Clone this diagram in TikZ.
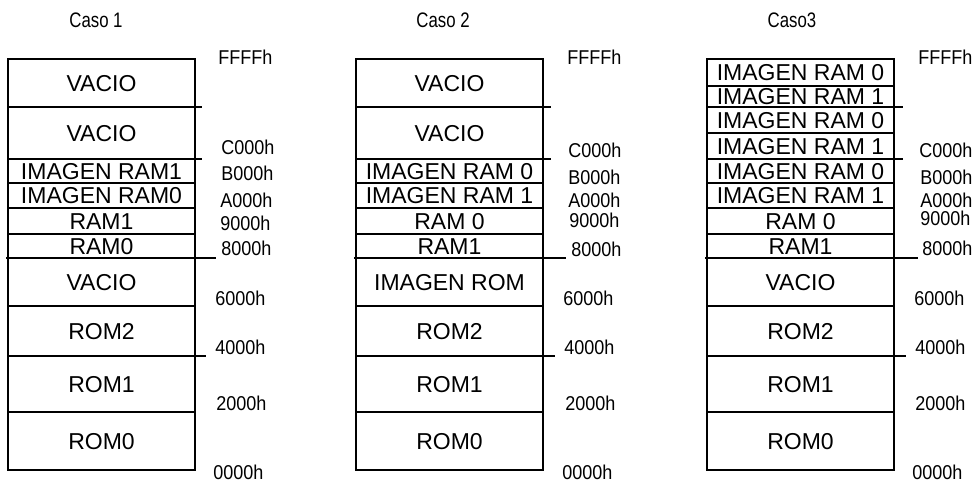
\documentclass[tikz,border=0pt]{standalone}
\usepackage{fontspec}
\setmainfont{Liberation Sans}
\newfontfamily\narrowfont[FakeStretch=0.9]{Liberation Sans}
\newfontfamily\titlefont[FakeStretch=0.8]{Liberation Sans}
\usepackage{tikz}
\usetikzlibrary{positioning}
\tikzset{
    every picture/.style={line cap=butt,line join=miter},
    memcell/.style={draw=black,line width=0.7pt,anchor=north west,
      minimum width=93.5pt,inner sep=0pt,outer sep=0pt,
      text height=8.2pt,text depth=0pt,
      font=\fontsize{11.5}{11.5}\selectfont},
    tick/.style={draw=black,line width=0.7pt},
    addr/.style={anchor=west,inner sep=0pt,font=\narrowfont\fontsize{10}{10}\selectfont},
    casetitle/.style={inner sep=0pt,font=\titlefont\fontsize{10.5}{10.5}\selectfont}
}
\begin{document}
\begin{tikzpicture}[x=0.5pt,y=-0.5pt]
  \useasboundingbox (0,0) rectangle (975,484);
  % Caso 1
  \node[casetitle] (t1) at (96,20) {Caso 1};
  \foreach \yt/\yb/\txt [count=\i] in {59/107/VACIO,107/159/VACIO,159/183/IMAGEN RAM1,
      183/208/IMAGEN RAM0,208/234/RAM1,234/258/RAM0,258/306/VACIO,306/356/ROM2,
      356/412/ROM1,412/470/ROM0}
    {\node[memcell,minimum height={(\yb-\yt)*0.5pt}] (a\i) at (8,\yt) {\txt};}
  \draw[tick] (a1.south east) -- ++(7,0);
  \draw[tick] (a2.south east) -- ++(7,0);
  \draw[tick] ([xshift=-1pt]a6.south west) -- ([xshift=10.5pt]a6.south east);
  \draw[tick] (a8.south east) -- ++(11,0);
  \foreach \x/\y/\lab [count=\k] in {218/57/FFFFh,221/147/C000h,221/173/B000h,220/200/A000h,
      220/223/9000h,221/248/8000h,215/298/6000h,215/347/4000h,216/403/2000h,213/472/0000h}
    {\node[addr] (ha\k) at (\x,\y) {\lab};}
  % Caso 2
  \node[casetitle] (t2) at (443,20) {Caso 2};
  \foreach \yt/\yb/\txt [count=\i] in {59/107/VACIO,107/159/VACIO,159/183/IMAGEN RAM 0,
      183/208/IMAGEN RAM 1,208/234/RAM 0,234/258/RAM1,258/306/IMAGEN ROM,306/356/ROM2,
      356/412/ROM1,412/470/ROM0}
    {\node[memcell,minimum height={(\yb-\yt)*0.5pt}] (b\i) at (356,\yt) {\txt};}
  \draw[tick] (b1.south east) -- ++(8,0);
  \draw[tick] (b2.south east) -- ++(8,0);
  \draw[tick] ([xshift=-1pt]b6.south west) -- ([xshift=11.5pt]b6.south east);
  \draw[tick] (b8.south east) -- ++(12,0);
  \foreach \x/\y/\lab [count=\k] in {567/57/FFFFh,568/150/C000h,568/177/B000h,568/200/A000h,
      569/220/9000h,571/249/8000h,563/298/6000h,564/347/4000h,565/403/2000h,562/472/0000h}
    {\node[addr] (hb\k) at (\x,\y) {\lab};}
  % Caso 3
  \node[casetitle] (t3) at (792,20) {Caso3};
  \foreach \yt/\yb/\txt [count=\i] in {59/86/IMAGEN RAM 0,86/107/IMAGEN RAM 1,
      107/133/IMAGEN RAM 0,133/159/IMAGEN RAM 1,159/183/IMAGEN RAM 0,183/208/IMAGEN RAM 1,
      208/234/RAM 0,234/258/RAM1,258/306/VACIO,306/356/ROM2,356/412/ROM1,412/470/ROM0}
    {\node[memcell,minimum height={(\yb-\yt)*0.5pt}] (c\i) at (707,\yt) {\txt};}
  \draw[tick] (c2.south east) -- ++(9,0);
  \draw[tick] (c4.south east) -- ++(9,0);
  \draw[tick] ([xshift=-1pt]c8.south west) -- ([xshift=12pt]c8.south east);
  \draw[tick] (c10.south east) -- ++(12,0);
  \foreach \x/\y/\lab [count=\k] in {918/57/FFFFh,919/150/C000h,920/177/B000h,920/200/A000h,
      920/218/9000h,922/248/8000h,914/298/6000h,915/347/4000h,915/403/2000h,912/472/0000h}
    {\node[addr] (hc\k) at (\x,\y) {\lab};}
\end{tikzpicture}
\end{document}
